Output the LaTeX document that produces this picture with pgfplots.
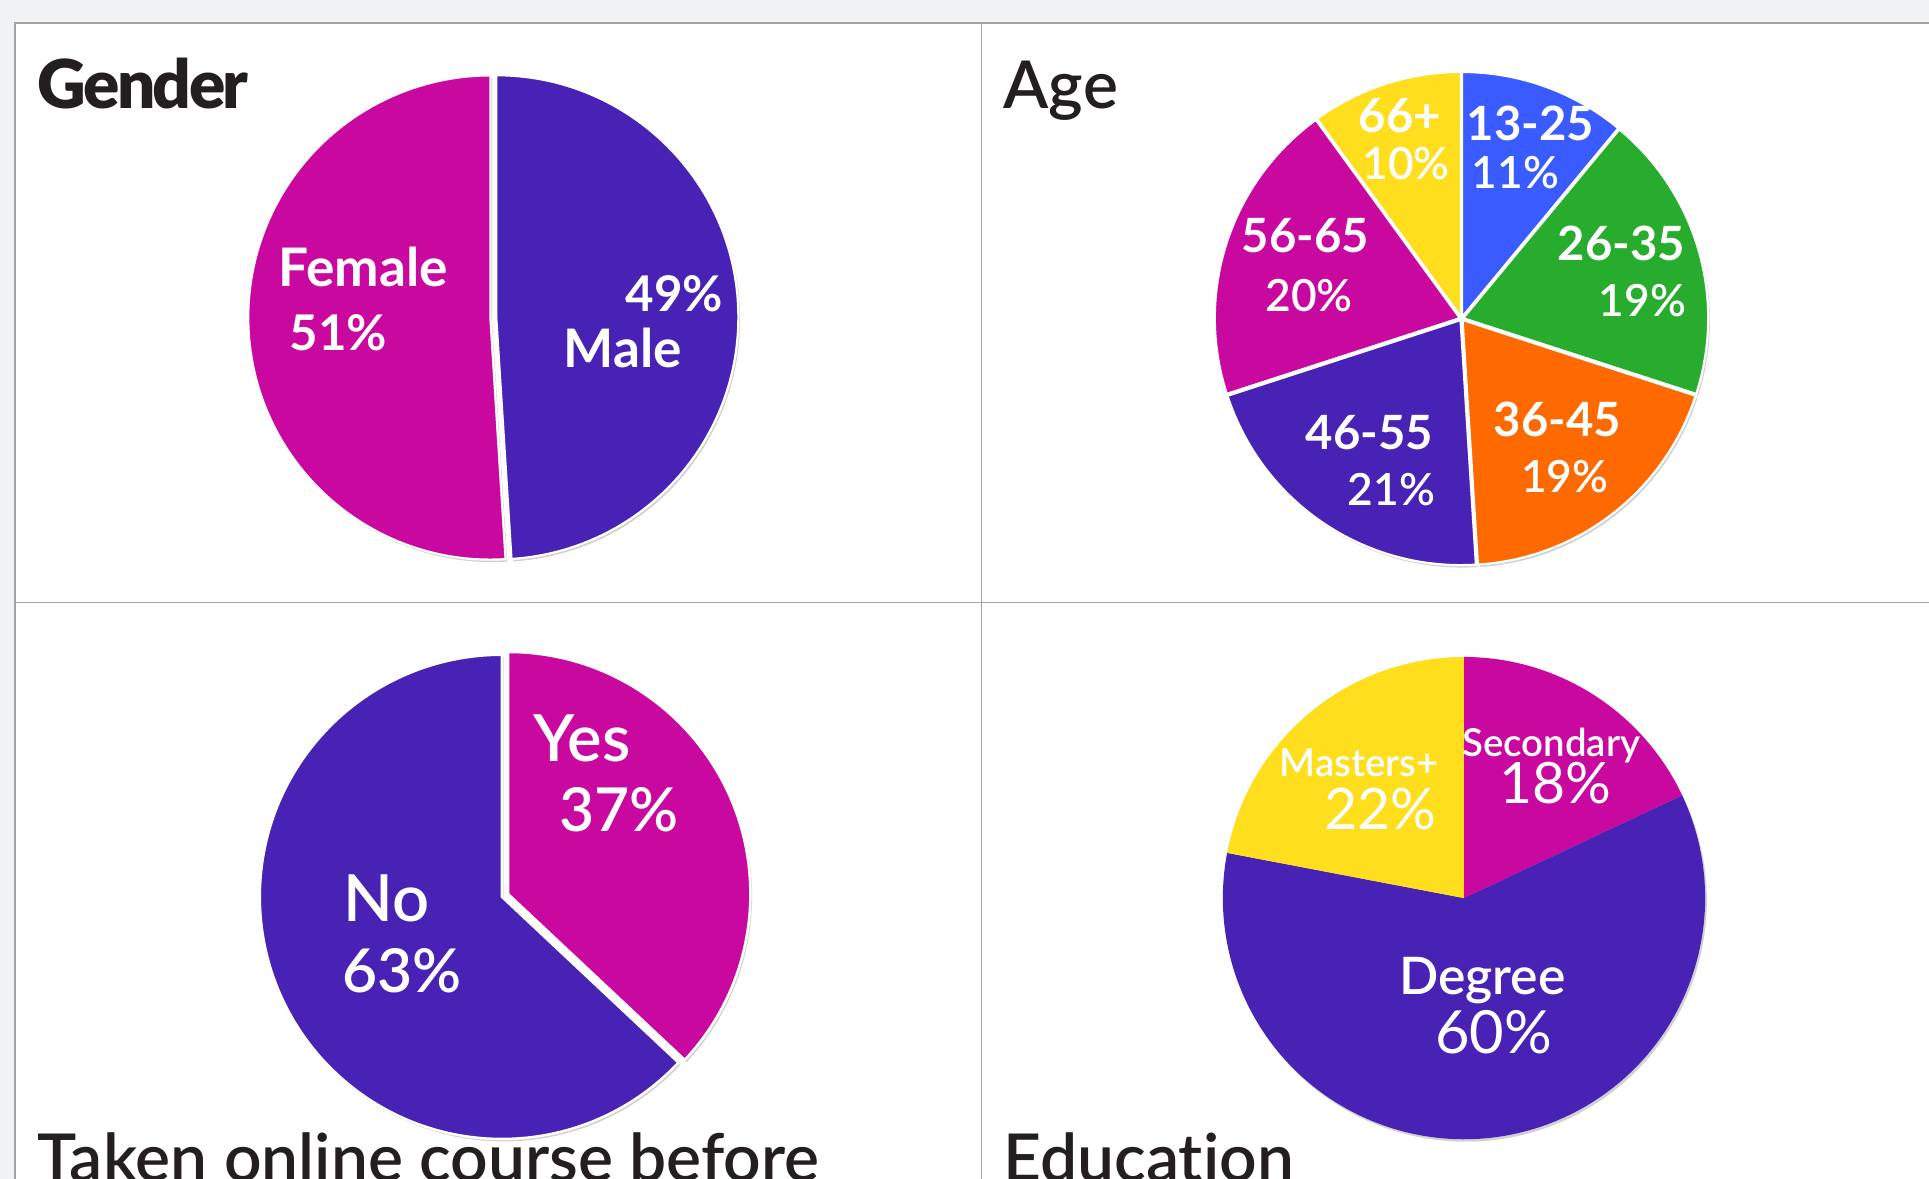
\documentclass[border=0pt]{standalone}
\usepackage{pgfplots}
\pgfplotsset{compat=1.18}
\usepackage{fontspec}
\setmainfont{Lato}
\newfontfamily\blackfont[LetterSpace=-4]{Lato Black}
\newfontfamily\semifont[Ligatures=NoCommon]{Lato Semibold}

\definecolor{mag}{HTML}{C9089F}
\definecolor{pur}{HTML}{4722B5}
\definecolor{blu}{HTML}{3A5BFF}
\definecolor{grn}{HTML}{27AC2D}
\definecolor{org}{HTML}{FF6A00}
\definecolor{yel}{HTML}{FFDE1D}
\definecolor{bggray}{HTML}{F1F2F4}
\definecolor{rule}{HTML}{A3A3A3}
\definecolor{ink}{HTML}{231F20}

% #1 cx, #2 cy (axis units), #3 radius, #4 slice style, #5 list value/colour/explode
\newcommand\drawpie[5]{%
  \gdef\cum{0}%
  \foreach \v/\c/\e in {#5}{%
    \pgfmathsetmacro\sa{90-3.6*\cum}%
    \pgfmathsetmacro\ea{90-3.6*(\cum+\v)}%
    \pgfmathsetmacro\ma{(\sa+\ea)/2}%
    \fill[black, opacity=0.18] ([shift={(\ma:\e)}, xshift=0.35pt, yshift=-0.5pt]axis cs:#1,#2) -- ++(\sa:#3) arc[start angle=\sa, end angle=\ea, radius=#3] -- cycle;
    \pgfmathsetmacro\newcum{\cum+\v}\global\let\cum\newcum
  }%
  \gdef\cum{0}%
  \foreach \v/\c/\e in {#5}{%
    \pgfmathsetmacro\sa{90-3.6*\cum}%
    \pgfmathsetmacro\ea{90-3.6*(\cum+\v)}%
    \pgfmathsetmacro\ma{(\sa+\ea)/2}%
    \fill[fill=\c, #4] ([shift={(\ma:\e)}]axis cs:#1,#2) -- ++(\sa:#3) arc[start angle=\sa, end angle=\ea, radius=#3] -- cycle;
    \pgfmathsetmacro\newcum{\cum+\v}\global\let\cum\newcum
  }%
}

\begin{document}
\begin{tikzpicture}
\begin{axis}[
  xmin=0, xmax=1568, ymin=0, ymax=958, y dir=reverse,
  width=392pt, height=239.5pt, scale only axis, hide axis, clip=false,
]
% background and panel rules
\fill[bggray] (axis cs:-5,-5) rectangle (axis cs:1575,965);
\fill[white] (axis cs:12,18.5) rectangle (axis cs:1575,965);
\draw[rule, line width=0.3pt] (axis cs:12,965) -- (axis cs:12,18.5) -- (axis cs:1575,18.5);
\draw[rule, line width=0.25pt] (axis cs:798,18.5) -- (axis cs:798,965);
\draw[rule, line width=0.25pt] (axis cs:12,490) -- (axis cs:1575,490);

\pgfplotsextra{%
  % Gender: Male 49, Female 51 (clockwise from top)
  \drawpie{401}{258}{49.2pt}{draw=white, line width=0.45pt}{49/pur/0.6pt, 51/mag/0.6pt}%
  % Age
  \drawpie{1188}{259}{49.8pt}{draw=white, line width=0.45pt}{11/blu/0.35pt, 19/grn/0.35pt, 19/org/0.35pt, 21/pur/0.35pt, 20/mag/0.35pt, 10/yel/0.35pt}%
  % Taken online course before: Yes 37, No 63
  \drawpie{408}{729}{49.2pt}{draw=white, line width=0.5pt}{37/mag/1.4pt, 63/pur/0pt}%
  % Education: Secondary 18, Degree 60, Masters+ 22
  \drawpie{1190}{730}{49pt}{draw=none}{18/mag/0pt, 60/pur/0pt, 22/yel/0pt}%
}

% titles
\node[anchor=base west, ink, inner sep=0pt, font=\blackfont\fontsize{13.7}{16}\selectfont] at (axis cs:30,88) {Gender};
\node[anchor=base west, ink, inner sep=0pt, font=\semifont\fontsize{13.4}{16}\selectfont] at (axis cs:815,88) {Age};
\node[anchor=base west, ink, inner sep=0pt, font=\semifont\fontsize{13.4}{16}\selectfont] at (axis cs:30,960) {Taken online course before};
\node[anchor=base west, ink, inner sep=0pt, font=\semifont\fontsize{13.4}{16}\selectfont] at (axis cs:815,960) {Education};

% Gender labels
\begin{scope}[every node/.style={anchor=base, white, inner sep=0pt, font=\bfseries\fontsize{10.8}{12}\selectfont}]
\node at (axis cs:295,233) {Female};
\node[font=\bfseries\fontsize{10}{12}\selectfont] at (axis cs:275,285) {51\%};
\node[font=\bfseries\fontsize{10}{12}\selectfont] at (axis cs:548,253) {49\%};
\node at (axis cs:506,299) {Male};
\end{scope}

% Age labels
\begin{scope}[every node/.style={anchor=base, white, inner sep=0pt, font=\bfseries\fontsize{9.6}{11}\selectfont}]
\node at (axis cs:1244,114) {13-25};
\node at (axis cs:1318,212) {26-35};
\node at (axis cs:1266,355) {36-45};
\node at (axis cs:1113,365) {46-55};
\node at (axis cs:1061,205) {56-65};
\node at (axis cs:1138,108) {66+};
\end{scope}
\begin{scope}[every node/.style={anchor=base, white, inner sep=0pt, font=\semifont\fontsize{9}{11}\selectfont}]
\node at (axis cs:1232,153) {11\%};
\node at (axis cs:1335,257) {19\%};
\node at (axis cs:1272,400) {19\%};
\node at (axis cs:1131,411) {21\%};
\node at (axis cs:1064,253) {20\%};
\node at (axis cs:1143,146) {10\%};
\end{scope}

% Online labels
\begin{scope}[every node/.style={anchor=base, white, inner sep=0pt, font=\semifont\fontsize{13.2}{15}\selectfont}]
\node at (axis cs:473,619) {Yes};
\node[font=\semifont\fontsize{12.3}{15}\selectfont] at (axis cs:503,676) {37\%};
\node at (axis cs:314,749) {No};
\node[font=\semifont\fontsize{12.3}{15}\selectfont] at (axis cs:327,807) {63\%};
\end{scope}

% Education labels
\begin{scope}[every node/.style={anchor=base, white, inner sep=0pt}]
\node[font=\semifont\fontsize{7.8}{9}\selectfont] at (axis cs:1261,615) {Secondary};
\node[font=\fontsize{11.6}{14}\selectfont] at (axis cs:1264,653) {18\%};
\node[font=\semifont\fontsize{7.8}{9}\selectfont] at (axis cs:1105,631) {Masters+};
\node[font=\fontsize{11.6}{14}\selectfont] at (axis cs:1122,674) {22\%};
\node[font=\semifont\fontsize{10.5}{12}\selectfont] at (axis cs:1205,808) {Degree};
\node[font=\fontsize{12.1}{14}\selectfont] at (axis cs:1214,856) {60\%};
\end{scope}
\end{axis}
\pgfresetboundingbox
\useasboundingbox (0,0) rectangle (392pt,239.5pt);
\end{tikzpicture}
\end{document}
